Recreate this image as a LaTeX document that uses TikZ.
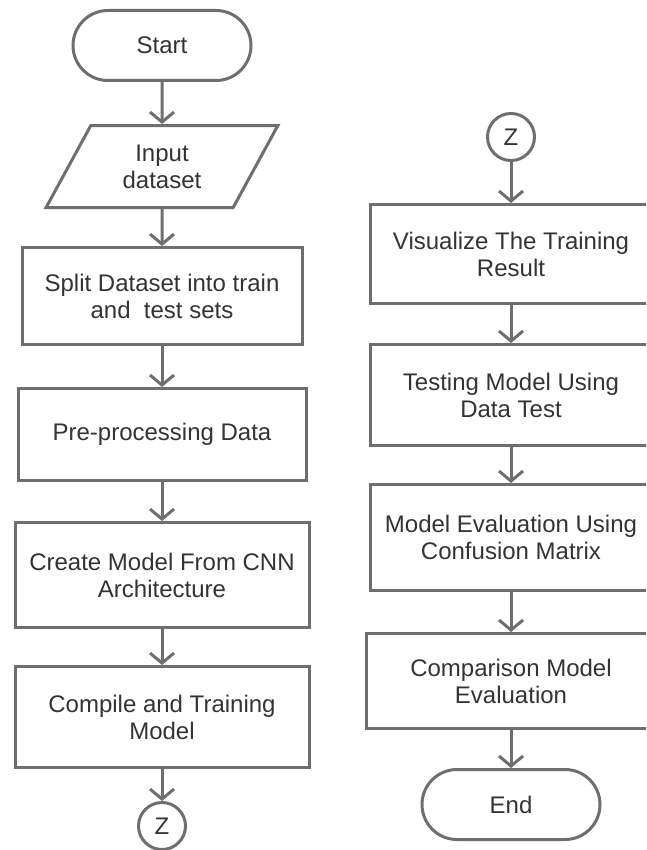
\documentclass[tikz,border=0pt]{standalone}
\usepackage{fontspec}
\setmainfont{Liberation Sans}
\usetikzlibrary{positioning, shapes.geometric, arrows.meta}
\definecolor{flowline}{HTML}{6E6E6E}
\definecolor{flowtext}{HTML}{333333}

\begin{document}
\begin{tikzpicture}[
    every node/.style={font=\fontsize{24}{27}\selectfont, text=flowtext},
    box/.style={draw=flowline, line width=3pt, align=center},
    term/.style={draw=flowline, line width=3pt, rounded corners=35pt, minimum width=178pt, minimum height=70pt},
    conn/.style={draw=flowline, line width=3pt, circle, minimum size=47pt, inner sep=0pt},
    flow/.style={draw=flowline, line width=3pt, -{Straight Barb[length=10pt, width=24pt]}}
]
    \useasboundingbox (0,0) rectangle (646pt,-850pt);
    \clip (0,0) rectangle (646pt,-850pt);

    % left column
    \node[term] (start) at (162pt,-45.5pt) {Start};
    \node[box, trapezium, trapezium left angle=62, trapezium right angle=118, trapezium stretches=true, minimum width=232pt, minimum height=82pt, below=42pt of start] (input) {Input\\dataset};
    \node[box, minimum width=280pt, minimum height=97pt, below=37pt of input] (split) {Split Dataset into train\\and~ test sets};
    \node[box, minimum width=288pt, minimum height=92pt, below=41pt of split] (prep) {Pre-processing Data};
    \node[box, minimum width=294pt, minimum height=105pt, below=39pt of prep] (cnn) {Create Model From CNN\\Architecture};
    \node[box, minimum width=294pt, minimum height=101pt, below=36pt of cnn] (train) {Compile and Training\\Model};
    \node[conn, below=32pt of train] (zout) {Z};

    % right column
    \node[conn] (zin) at (511pt,-137pt) {Z};
    \node[box, minimum width=281pt, minimum height=99pt, below=41pt of zin] (visual) {Visualize The Training\\Result};
    \node[box, minimum width=281pt, minimum height=101pt, below=38pt of visual] (test) {Testing Model Using\\Data Test};
    \node[box, minimum width=281pt, minimum height=106pt, below=36pt of test] (eval) {Model Evaluation Using\\Confusion Matrix};
    \node[box, minimum width=289pt, minimum height=95pt, below=40pt of eval] (compare) {Comparison Model\\Evaluation};
    \node[term, below=38pt of compare] (end) {End};

    \draw[flow] (start) -- (input);
    \draw[flow] (input) -- (split);
    \draw[flow] (split) -- (prep);
    \draw[flow] (prep) -- (cnn);
    \draw[flow] (cnn) -- (train);
    \draw[flow] (train) -- (zout);

    \draw[flow] (zin) -- (visual);
    \draw[flow] (visual) -- (test);
    \draw[flow] (test) -- (eval);
    \draw[flow] (eval) -- (compare);
    \draw[flow] (compare) -- (end);
\end{tikzpicture}
\end{document}
